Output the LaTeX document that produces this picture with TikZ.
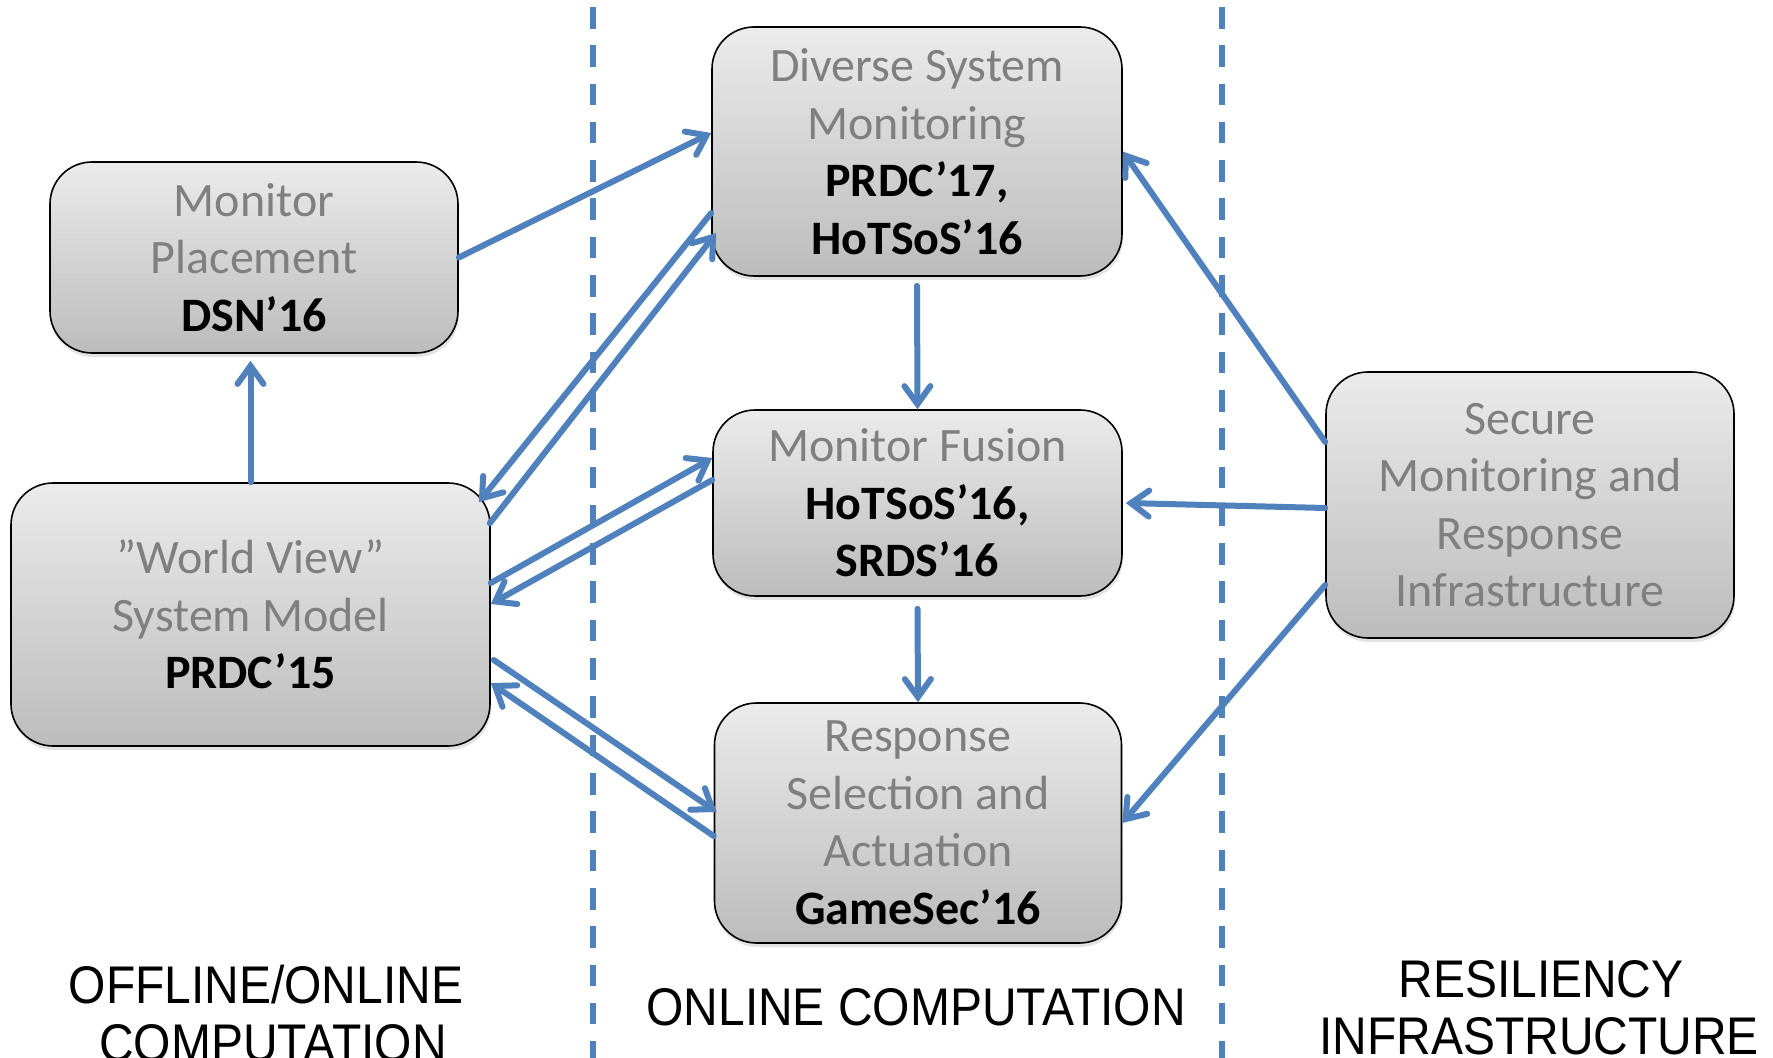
\documentclass[tikz,border=0pt]{standalone}
\usepackage{fontspec}
\setmainfont{Carlito}
\newfontfamily\arialf[FakeStretch=0.905]{Liberation Sans}
\usetikzlibrary{arrows.meta,shadows,calc}
\definecolor{lineblue}{HTML}{4F81BD}
\definecolor{txtgray}{HTML}{7F7F7F}
\definecolor{boxtop}{HTML}{EBEBEB}
\definecolor{boxbot}{HTML}{BCBCBC}
\newcommand\pubref[1]{\textcolor{black}{\bfseries #1}}
\begin{document}
\begin{tikzpicture}[x=0.5pt,y=-0.5pt,
  box/.style={draw=black, line width=0.8pt, rounded corners=21pt,
    top color=boxtop, bottom color=boxbot, align=center,
    font=\fontsize{24pt}{28.75pt}\selectfont, text=txtgray, inner sep=0pt,
    drop shadow={shadow xshift=0.5pt, shadow yshift=-2pt, opacity=0.22}},
  arr/.style={draw=lineblue, line width=3pt, line cap=round,
    -{Straight Barb[length=9pt,width=13pt,line cap=round]}},
  sepline/.style={draw=lineblue, line width=3.3pt, dash pattern=on 10.8pt off 8.35pt},
  lbl/.style={font=\arialf\fontsize{26.5pt}{28.75pt}\selectfont, inner sep=0pt, anchor=base}
]
\useasboundingbox (0,0) rectangle (1773,1058);
\clip (0,0) rectangle (1773,1058);
\fill[white] (0,0) rectangle (1773,1058);

% separators
\coordinate (s1t) at (593,7);
\coordinate (s1b) at (593,1060);
\coordinate (s2t) at (1222,7);
\coordinate (s2b) at (1222,1060);
\draw[sepline] (s1t) -- (s1b);
\draw[sepline] (s2t) -- (s2b);

% boxes
\node[box, minimum width=204pt, minimum height=95.5pt] (MP) at (254,257.5)
  {Monitor\\Placement\\\pubref{DSN’16}};
\node[box, minimum width=205pt, minimum height=124.5pt] (DSM) at (917,151.5)
  {Diverse System\\Monitoring\\\pubref{PRDC’17,}\\\pubref{HoTSoS’16}};
\node[box, minimum width=204.5pt, minimum height=93pt] (MF) at (917.5,503)
  {Monitor Fusion\\\pubref{HoTSoS’16,}\\\pubref{SRDS’16}};
\node[box, minimum width=203.5pt, minimum height=120pt] (RSA) at (918,823)
  {Response\\Selection and\\Actuation\\\pubref{GameSec’16}};
\node[box, minimum width=239.5pt, minimum height=131.5pt] (WV) at (250.5,614.5)
  {”World View”\\System Model\\\pubref{PRDC’15}};
\node[box, minimum width=204pt, minimum height=133pt] (SMR) at (1530,505)
  {Secure\\Monitoring and\\Response\\Infrastructure};

% connectors
\draw[arr] (MP.east) -- ([yshift=9.25pt]DSM.west);
\draw[arr] ([yshift=-30.75pt]DSM.west) -- ([xshift=-6pt,yshift=-10pt]WV.north east);
\draw[arr] ([xshift=-0.5pt,yshift=-20.5pt]WV.north east) -- ([xshift=2.5pt,yshift=-40.75pt]DSM.west);
\draw[arr] ([yshift=15.75pt]WV.east) -- ([yshift=22.5pt]MF.west);
\draw[arr] ([yshift=11.5pt]MF.west) -- ([yshift=5.25pt]WV.east);
\draw[arr] ([xshift=1.5pt,yshift=-22.75pt]WV.east) -- ([xshift=1.5pt,yshift=5.5pt]RSA.west);
\draw[arr] ([yshift=-6.5pt]RSA.west) -- ([yshift=-34.25pt]WV.east);
\draw[arr] (WV.north) -- ($(WV.north |- MP.south)+(0,7)$);
\draw[arr] ([yshift=-4.5pt]DSM.south) -- (MF.north);
\draw[arr] ([yshift=-6pt]MF.south) -- (RSA.north);
\draw[arr] ([yshift=31.5pt]SMR.west) -- (DSM.east);
\draw[arr] ([yshift=-1.5pt]SMR.west) -- ([xshift=1.5pt]MF.east);
\draw[arr] ([yshift=-40pt]SMR.west) -- (RSA.east);

% column labels
\node[lbl] (L1a) at (266,1003) {OFFLINE/ONLINE};
\node[lbl] (L1b) at (273,1061) {COMPUTATION};
\node[lbl] (L2) at (916,1025) {ONLINE COMPUTATION};
\node[lbl] (L3a) at (1541,997) {RESILIENCY};
\node[lbl] (L3b) at (1539,1054) {INFRASTRUCTURE};
\end{tikzpicture}
\end{document}
